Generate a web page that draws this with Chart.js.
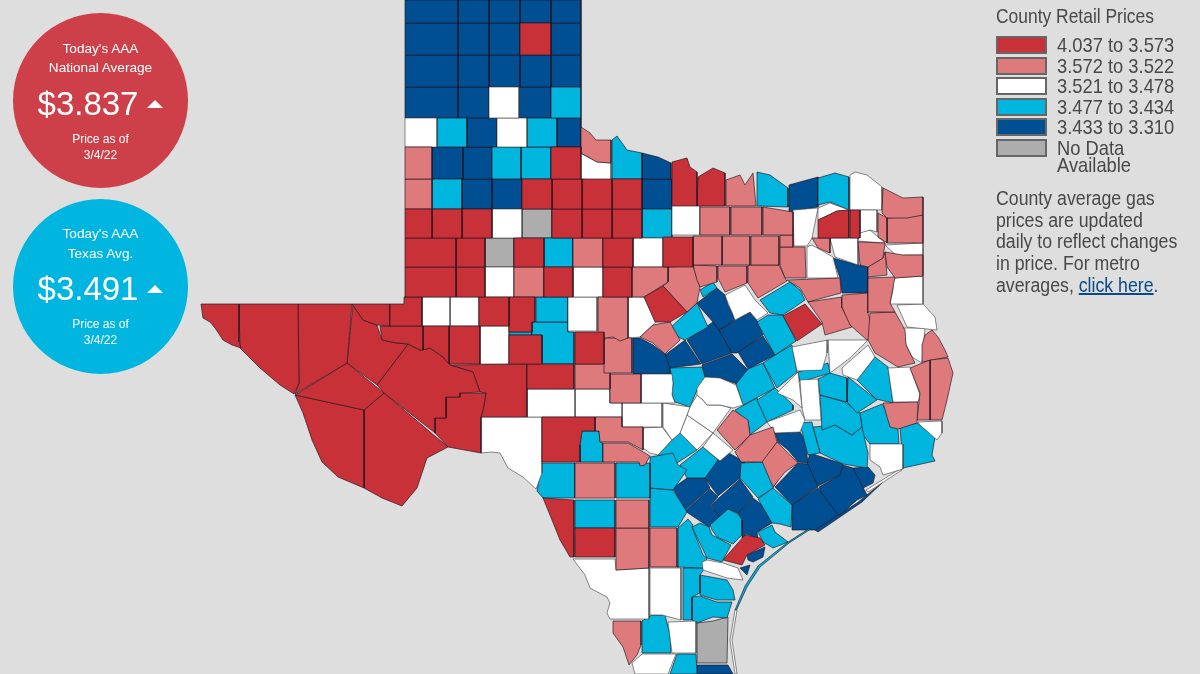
<!DOCTYPE html>
<html>
<head>
<meta charset="utf-8">
<title>Texas county gas prices</title>
<script src="https://cdn.jsdelivr.net/npm/chart.js@4"></script>
<style>
html, body { margin: 0; padding: 0; background: #dedede; overflow: hidden; }
#wrap { position: relative; width: 1200px; height: 674px; font-family: "Liberation Sans", Arial, sans-serif; }
canvas { position: absolute; left: 0; top: 0; }
.circle { position: absolute; left: 13px; width: 175px; height: 175px; border-radius: 50%; color: #fff; text-align: center; }
.circle div { position: absolute; left: 0; width: 100%; }
.small { font-size: 13.6px; line-height: 16px; }
.tiny { font-size: 12px; line-height: 14px; }
.price { font-size: 33px; line-height: 38px; text-indent: -25px; }
.tri { position: absolute; width: 0; height: 0; border-left: 8px solid transparent; border-right: 8px solid transparent; border-bottom: 8px solid #fff; }
#legend { position: absolute; left: 996px; top: 0; width: 204px; color: #484848; font-size: 21px; }
#legend .title { position: absolute; top: 4px; left: 0; white-space: nowrap; transform: scaleX(.83); transform-origin: left; }
#legend .row { position: absolute; left: 0; white-space: nowrap; }
#legend .sw { position: absolute; left: 0; top: 0; width: 47px; height: 14px; border: 2px solid #666; }
#legend .lb { position: absolute; left: 61px; top: 0; line-height: 17.5px; transform: scaleX(.873); transform-origin: left; }
#note { position: absolute; top: 188px; left: 0; width: 260px; font-size: 20px; line-height: 21.7px; white-space: nowrap; transform: scaleX(.886); transform-origin: left; }
#note a { color: #0a4a8a; text-decoration: underline; }
</style>
</head>
<body>
<div id="wrap">
<canvas id="map" width="1200" height="674"></canvas>
<div class="circle" style="top:13px;background:#cd4049">
  <div class="small" style="top:28px">Today's AAA</div>
  <div class="small" style="top:47px">National Average</div>
  <div class="price" id="natPrice" style="top:72px"></div>
  <span class="tri" style="left:134px;top:87px"></span>
  <div class="tiny" style="top:119px">Price as of</div>
  <div class="tiny natDate" style="top:135px"></div>
</div>
<div class="circle" style="top:199px;background:#00b5e0">
  <div class="small" style="top:27px">Today's AAA</div>
  <div class="small" style="top:47px">Texas Avg.</div>
  <div class="price" id="txPrice" style="top:71px"></div>
  <span class="tri" style="left:134px;top:86px"></span>
  <div class="tiny" style="top:118px">Price as of</div>
  <div class="tiny natDate" style="top:134px"></div>
</div>
<div id="legend">
  <div class="title">County Retail Prices</div>
  <div id="rows"></div>
  <div id="note">County average gas<br>prices are updated<br>daily to reflect changes<br>in price. For metro<br>averages, <a href="#">click here</a>.</div>
</div>
</div>
<script>
const nationalPrice = '$3.837';
const texasPrice = '$3.491';
const priceDate = '3/4/22';
const binLabels = ['4.037 to 3.573', '3.572 to 3.522', '3.521 to 3.478', '3.477 to 3.434', '3.433 to 3.310', 'No Data<br>Available'];
const binColors = ['#c93139', '#de7a7c', '#ffffff', '#00b6de', '#004f92', '#adadad'];

// county outlines in map units, two points means a box
const redCounties = [
  '520,23 551,55',
  '551,147 581,179', '522,179 552,209', '552,179 582,209', '582,179 612,209', '612,179 642,209',
  '672,162 687,158 690,167 697,172 697,206 672,206', '698,177 713,168 725,173 725,206 697,206',
  '405,209 432,238', '432,209 462,238', '462,209 492,238', '552,209 582,238', '582,209 612,238', '612,209 642,238',
  '405,238 456,267', '456,238 485,267', '514,238 544,267', '603,238 633,267', '663,237 693,237 693,267 663,267',
  '405,267 456,297', '456,267 485,297', '544,267 573,297', '603,267 632,297',
  '644,297 663,286 687,312 670,322 655,322',
  '390,304 404,304 404,297 422,297 422,326 390,326', '352,304 390,304 390,326 377,325 363,320',
  '479,297 509,326', '509,297 535,297 535,322 532,322 532,332 509,332',
  '380,326 423,326 423,350 420,350 408,344 397,343 382,340', '423,326 449,326 449,364 443,357 430,348 423,350', '449,326 480,364',
  '509,335 542,364', '575,332 604,364', '527,364 574,389',
  '201,304 239,304 239,342 241,348 232,345 223,340 215,328 210,322 203,318',
  '239,304 298,304 299,383 294,394 280,385 260,368 240,348',
  '298,304 352,304 347,363 295,394 299,383', '347,363 384,393 364,410 295,395',
  '295,395 364,410 364,488 338,477 322,462 312,440 303,413',
  '364,410 384,393 448,447 427,458 417,488 402,506 382,498 364,488',
  '353,304 363,320 377,325 382,340 397,343 408,344 377,385 347,363',
  '408,344 420,350 430,348 443,357 450,365 473,372 480,392 460,393 460,397 446,397 446,418 435,418 435,433 384,393 377,385',
  '435,433 435,418 446,418 446,397 460,397 460,393 486,393 483,410 481,417 481,453 448,447',
  '450,365 527,364 527,417 481,417 483,410 486,393 480,392 473,372',
  '542,417 595,417 595,431 582,431 580,445 580,462 542,462',
  '543,498 574,500 574,557 570,557 560,540 552,520', '575,528 615,557',
  '783,316 805,304 822,324 797,341',
  '818,220 837,211 849,210 849,238 818,238', '850,210 860,238',
  '723,560 745,535 760,538 765,545 747,555 742,565'
];
const pinkCounties = [
  '581,127 590,133 596,140 611,140 611,163 597,162 581,153',
  '405,147 432,179', '405,179 432,209', '573,238 603,267', '514,267 544,297',
  '726,180 740,175 745,185 753,173 756,206 726,206',
  '700,207 730,235', '731,207 762,235', '763,207 793,212 793,235 763,235',
  '693,236 722,265', '722,236 750,265', '751,236 779,265', '780,235 793,247',
  '693,265 717,266 717,282 700,287 697,280', '718,266 747,266 747,283 725,292 718,278',
  '748,265 779,265 785,278 787,281 758,298 748,283',
  '780,247 805,247 806,278 785,278 780,265', '812,238 830,238 830,253 818,248',
  '858,242 885,243 883,258 868,267 860,265', '868,267 883,258 885,252 887,275 868,277',
  '878,213 887,218 887,243 878,237',
  '883,188 903,198 923,197 923,215 907,218 887,218 882,213', '887,218 907,217 923,215 923,243 887,243',
  '885,252 903,255 923,255 923,276 895,278 887,267',
  '868,278 895,277 890,303 895,312 868,312',
  '870,313 895,312 905,330 906,345 915,363 898,367 875,353 868,340',
  '842,295 868,293 868,313 875,337 867,340 850,325 842,307',
  '808,302 842,297 842,308 852,327 825,335 822,322',
  '787,280 840,278 841,293 808,302 800,288',
  '632,267 668,267 668,282 644,297 628,297',
  '668,267 693,266 700,287 697,303 687,312 663,286 668,282',
  '640,337 653,325 670,322 680,340 665,354 653,343',
  '598,297 628,297 628,338 620,341 613,337 605,338 598,332',
  '604,338 632,338 632,373 604,373', '575,364 610,389', '610,374 641,403',
  '595,417 622,417 622,427 643,427 643,450 628,442 600,442 599,431 595,431',
  '603,443 628,443 650,456 645,465 640,466 639,462 603,462',
  '575,463 615,498', '616,500 649,528', '616,528 649,528 649,568 616,570', '650,528 677,567',
  '613,621 641,621 641,645 637,655 629,665 623,647 613,633',
  '717,430 733,410 748,420 750,435 735,450',
  '735,452 750,435 773,427 777,442 762,462 741,462',
  '762,461 777,442 798,463 785,472 773,487',
  '883,403 918,402 917,423 898,429 890,427',
  '910,368 930,360 930,420 917,420 920,393',
  '930,360 948,358 953,373 947,400 942,420 930,420',
  '922,345 925,335 932,330 938,337 945,350 948,357 922,362'
];
const whiteCounties = [
  '489,87 519,118', '405,118 437,147', '497,118 527,147',
  '580,153 597,162 611,163 611,184 597,180 580,179',
  '492,209 522,238', '672,205 700,235', '633,238 663,267',
  '485,267 514,297', '573,267 603,297', '422,297 450,326', '450,297 479,326', '480,326 509,364', '568,297 597,331',
  '628,297 644,297 656,322 640,337 628,338',
  '725,295 745,285 755,300 768,313 757,320 750,312 735,320 732,312 728,303',
  '527,389 575,417', '575,389 610,389 610,403 622,403 622,417 575,417',
  '641,374 672,374 673,383 672,395 675,403 641,403', '622,403 662,427',
  '663,403 690,407 687,415 680,433 672,440 663,427',
  '643,428 662,427 672,440 658,455 650,453 643,448',
  '481,417 542,417 542,473 536,489 523,477 508,468 500,453 492,452 481,453',
  '697,388 705,377 720,378 736,385 743,405 733,408 720,405 707,405 703,400 697,395',
  '690,407 697,395 703,400 707,405 720,405 731,408 713,433 687,415',
  '687,415 713,433 697,450 680,433',
  '713,433 733,450 720,461 703,447',
  '573,559 615,559 616,570 649,568 649,619 610,619 607,613 610,603 607,597 590,588 585,575',
  '650,568 681,568 681,620 662,615 650,615',
  '702,562 707,560 723,563 738,568 743,580 727,578 703,570',
  '668,622 696,621 696,653 672,653', '632,663 642,654 676,654 668,674 635,674',
  '793,210 818,208 812,238 807,246 794,246', '818,208 830,203 849,210 837,211 818,220',
  '860,210 877,210 877,232 870,230 860,233', '860,232 870,230 885,243 858,241',
  '830,238 858,238 858,265 835,257', '807,247 812,245 833,257 838,278 807,278',
  '850,175 855,172 867,175 882,187 882,210 850,210',
  '885,245 923,243 923,255 907,255 897,256', '893,278 923,276 923,304 890,304 893,290',
  '897,305 923,304 935,317 937,330 907,327', '903,328 925,328 922,363 912,357 906,345',
  '792,347 828,340 827,353 822,370 797,371', '828,340 868,340 850,358 830,373',
  '842,368 868,345 875,357 857,380 843,375',
  '777,393 798,372 802,408 793,400', '800,380 818,379 821,420 805,420 802,408',
  '767,422 800,410 805,420 800,432 775,433',
  '888,368 910,367 920,395 918,402 893,402',
  '870,444 903,444 903,469 883,475 880,467 870,460',
  '918,422 942,421 942,433 937,440 920,425',
  '735,610 730,640 735,674 737,674 732,640 737,610', '866,490 900,469 902,470 868,492'
];
const cyanCounties = [
  '551,87 581,118', '437,118 467,147', '527,118 557,147', '492,147 521,179', '521,147 551,179', '432,179 462,209',
  '612,140 617,136 627,150 642,153 642,179 612,179',
  '642,209 672,238', '544,238 573,267',
  '536,297 568,322', '532,322 568,322 568,332 574,332 574,364 542,364 542,335 532,335', '509,332 532,335',
  '582,431 599,431 600,442 603,443 603,462 580,462 580,445',
  '542,463 575,463 575,498 543,498 537,491', '616,463 650,498', '575,500 615,528',
  '650,457 673,453 678,465 687,470 673,490 650,488', '658,455 672,440 680,433 697,450 677,463',
  '680,465 703,447 718,460 705,478 687,478',
  '670,368 702,367 705,377 697,390 690,407 675,402 672,395 673,383',
  '650,488 673,490 687,512 678,527 650,527',
  '678,528 688,519 693,525 692,527 703,555 707,558 703,568 677,567',
  '692,527 700,523 709,527 712,535 731,545 722,562 707,558',
  '710,525 728,509 738,514 742,520 742,535 733,544 717,537 712,530',
  '758,499 773,488 792,505 791,527 780,524 772,523',
  '758,532 772,525 775,532 788,542 773,548 763,542',
  '683,568 705,568 700,575 700,593 692,597 692,620 683,620', '700,575 727,580 733,590 735,600 717,600 700,595',
  '692,597 700,596 717,602 732,602 727,618 713,617 697,623 692,620',
  '642,621 652,615 665,615 670,635 671,653 642,653', '677,654 696,654 697,674 670,674',
  '741,463 762,462 778,480 773,488 758,498 740,478',
  '757,172 770,175 788,188 788,207 757,206', '818,178 835,173 849,177 849,210 830,202 818,205',
  '760,300 790,282 800,290 805,300 783,315 770,313',
  '757,322 768,315 783,315 796,341 775,355',
  '700,290 713,282 717,288 703,297', '670,328 697,303 708,327 685,340 680,338',
  '736,384 748,369 763,363 775,388 743,405', '763,363 775,355 792,345 797,372 777,388',
  '757,400 775,388 793,405 793,410 767,422', '735,410 757,398 767,422 750,435 748,422',
  '798,372 828,363 830,373 800,382', '818,379 830,373 847,378 847,402 820,395',
  '848,377 877,400 857,413 847,402', '857,380 875,357 888,367 893,403 876,399',
  '820,395 845,402 860,413 862,427 852,435 835,425 822,430',
  '800,423 812,422 813,427 820,453 808,455 804,440',
  '813,427 835,425 852,435 862,427 868,453 867,468 843,464 820,453',
  '860,413 882,404 898,429 899,444 870,444 863,435',
  '900,427 917,423 935,437 932,455 935,461 903,468',
  '810,528 788,542 758,566 745,586 735,610 736.5,610 747,587 760,567 789,543 810,529.5'
];
const blueCounties = [
  '405,0 458,23', '458,0 489,23', '489,0 520,23', '520,0 551,23', '551,0 581,23',
  '405,23 458,55', '458,23 489,55', '489,23 520,55', '551,23 581,55',
  '405,55 458,87', '458,55 489,87', '489,55 520,87', '520,55 551,87', '551,55 581,87',
  '405,87 458,118', '458,87 489,118', '519,87 551,118',
  '467,118 497,147', '557,118 581,147', '432,147 463,179', '463,147 492,179',
  '462,179 492,209', '492,179 522,209',
  '642,153 658,157 671,163 671,179 642,179', '642,179 672,209',
  '789,185 818,177 818,207 789,212', '833,258 858,265 868,267 868,293 842,293 840,278',
  '633,338 640,338 653,345 665,354 670,368 670,374 633,374',
  '665,355 685,340 701,364 670,368',
  '697,303 717,288 725,295 728,305 732,313 735,320 719,330 713,322 698,305',
  '719,330 750,312 758,322 763,335 737,353 732,353',
  '687,340 713,322 719,330 732,353 702,364',
  '738,352 763,336 775,355 748,369',
  '702,365 732,354 748,370 737,384 720,378 705,377',
  '673,488 687,478 705,478 710,488 685,510',
  '705,478 715,462 727,452 745,462 740,478 718,496',
  '685,511 710,489 718,497 710,505 720,517 709,527',
  '711,505 740,479 753,497 738,513 728,509 720,517',
  '738,513 753,498 762,505 772,523 757,532 758,538 746,534 742,538 742,520',
  '775,487 798,463 808,464 818,487 792,505', '792,505 818,488 838,515 815,530 792,530',
  '807,464 810,453 843,464 840,475 818,486',
  '819,487 840,475 843,465 853,468 867,495 857,500 840,515 827,510',
  '853,468 868,467 875,475 873,483 865,487 860,490',
  '775,433 800,432 805,440 808,463 798,462 788,450 778,442',
  '747,555 765,547 763,557 753,562 748,560', '740,568 750,565 747,575',
  '697,665 728,665 733,674 697,674',
  '815,530 857,503 883,482 862,502 818,532'
];
const noDataCounties = ['522,209 552,238', '485,238 514,267', '697,623 713,621 728,617 727,663 697,663'];
const countyBins = [redCounties, pinkCounties, whiteCounties, cyanCounties, blueCounties, noDataCounties];

function parseShape(text) {
  const p = text.split(' ').map(s => s.split(',').map(Number));
  if (p.length === 2) {
    const [a, b] = p;
    return [[a[0], a[1]], [b[0], a[1]], [b[0], b[1]], [a[0], b[1]]];
  }
  return p;
}

const datasets = [];
countyBins.forEach((bin, i) => {
  bin.forEach(shape => {
    const pts = parseShape(shape).map(p => ({ x: p[0], y: p[1] }));
    pts.push(pts[0]);
    datasets.push({
      data: pts,
      showLine: true,
      fill: 'shape',
      backgroundColor: binColors[i],
      borderColor: i === 2 ? 'rgba(60,60,60,.6)' : 'rgba(30,20,30,.65)',
      borderWidth: 1,
      pointRadius: 0,
      tension: 0
    });
  });
});

new Chart('map', {
  type: 'scatter',
  data: { datasets: datasets },
  options: {
    responsive: false,
    animation: false,
    events: [],
    layout: { padding: 0 },
    plugins: { legend: { display: false }, tooltip: { enabled: false } },
    scales: {
      x: { type: 'linear', min: 0, max: 1200, display: false },
      y: { type: 'linear', min: 0, max: 674, reverse: true, display: false }
    }
  }
});

document.querySelector('#natPrice').innerHTML = nationalPrice;
document.querySelector('#txPrice').innerHTML = texasPrice;
document.querySelectorAll('.natDate').forEach(d => d.innerHTML = priceDate);
document.querySelector('#rows').innerHTML = binLabels.map((l, i) =>
  `<div class="row" style="top:${36 + i * 20.5}px"><span class="sw" style="background:${binColors[i]}"></span><span class="lb">${l}</span></div>`
).join('');
</script>
</body>
</html>
